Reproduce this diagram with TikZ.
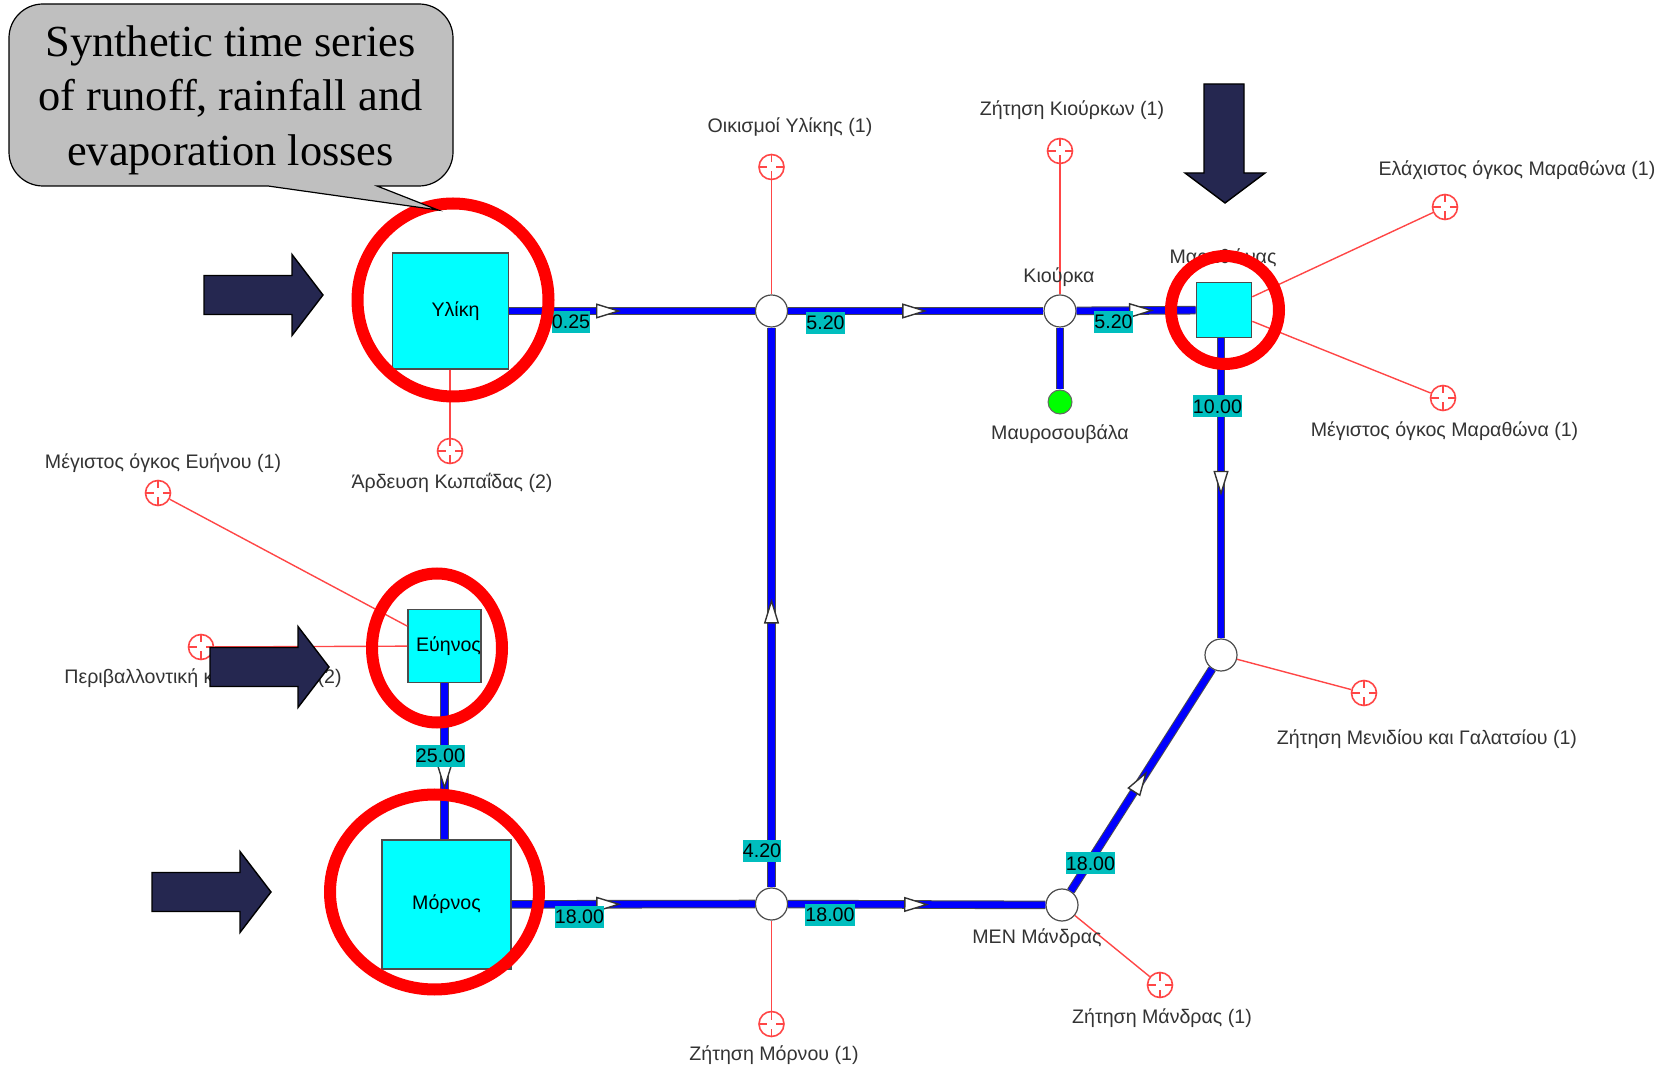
\documentclass[tikz,border=0pt]{standalone}
\usepackage{fontspec}
\setmainfont{Liberation Sans}
\newfontfamily\calloutfont{Liberation Serif}
\usepackage{tikz}
\usetikzlibrary{arrows.meta}
\usetikzlibrary{decorations.markings}

\definecolor{pipeblue}{RGB}{0,0,255}
\definecolor{tankcyan}{RGB}{0,255,255}
\definecolor{tagteal}{RGB}{0,190,190}
\definecolor{inflownavy}{RGB}{37,39,80}
\definecolor{demandred}{RGB}{255,70,70}
\definecolor{ringred}{RGB}{255,0,0}
\definecolor{calloutgray}{RGB}{191,191,191}

\begin{document}
\begin{tikzpicture}[x=0.5pt,y=-0.5pt,
    every node/.style={font=\fontsize{9.8}{11}\selectfont},
    pipe/.style={draw=black!70,line width=0.5pt,double=pipeblue,double distance=3.3pt},
    flow/.style={decoration={
      markings,
      mark=at position #1 with {\arrow[black!80,line width=0.7pt]{Triangle[fill=white,length=12.5pt,width=7.5pt]}}},postaction={decorate}},
    demand/.style={draw=demandred,line width=0.7pt},
    tank/.style={draw=black!70,line width=0.8pt,fill=tankcyan,inner sep=0pt,minimum size=#1},
    junction/.style={circle,draw=black!70,line width=0.6pt,fill=white,inner sep=0pt,minimum size=16pt},
    target/.style={circle,draw=demandred,line width=0.8pt,fill=white,inner sep=0pt,minimum size=12.5pt,
      path picture={
        \draw[demandred,line width=0.6pt]
          (path picture bounding box.north) -- ++(0,-4pt)
          (path picture bounding box.south) -- ++(0,4pt)
          (path picture bounding box.east) -- ++(-4pt,0)
          (path picture bounding box.west) -- ++(4pt,0);}},
    tag/.style={fill=tagteal,inner sep=0pt,minimum height=11pt,minimum width=#1},
    caption/.style={text=black!80,inner sep=0pt},
    ring/.style={draw=ringred,line width=6pt},
    inflow/.style={draw=black,line width=0.7pt,fill=inflownavy}
    ]
    \useasboundingbox (0,0) rectangle (1671,1068);

    % reservoirs
    \node[tank=58pt] (yliki) at (450.5,311) {\hspace{5pt}Υλίκη};
    \node[tank=36.5pt] (evinos) at (444.5,646) {\hspace{4pt}\raisebox{1pt}{Εύηνος}};
    \node[tank=64.5pt] (mornos) at (446.5,904.5) {Μόρνος};
    \node[tank=27.5pt] (marathonas) at (1224,310) {};

    % junctions
    \node[junction] (ylikijn) at (771.5,311) {};
    \node[junction] (kiourka) at (1060,311) {};
    \node[junction] (menidi) at (1221,655) {};
    \node[junction] (mandra) at (1062,905) {};
    \node[junction] (mornosjn) at (771.5,904) {};
    \node[circle,draw=black!60,line width=0.5pt,fill=green,inner sep=0pt,minimum size=12pt] (mavro) at (1060,402) {};

    % demands
    \node[target] (oikismoi) at (771.5,167) {};
    \node[target] (kiourkdem) at (1060,151) {};
    \node[target] (elaxistos) at (1445,207) {};
    \node[target] (megistos) at (1443,398) {};
    \node[target] (kopaida) at (450,451) {};
    \node[target] (evmax) at (158,493) {};
    \node[target] (evenv) at (201,647) {};
    \node[target] (menididem) at (1364,693) {};
    \node[target] (mandradem) at (1160,985) {};
    \node[target] (mornosdem) at (771.5,1024) {};

    \draw[demand] (oikismoi) -- (ylikijn);
    \draw[demand] (kiourkdem) -- (kiourka);
    \draw[demand] (elaxistos) -- (marathonas);
    \draw[demand] (megistos) -- (marathonas);
    \draw[demand] (kopaida) -- (kopaida |- yliki.south);
    \draw[demand] (evmax) -- (evinos);
    \draw[demand] (evenv) -- (evinos);
    \draw[demand] (menididem) -- (menidi);
    \draw[demand] (mandradem) -- (mandra);
    \draw[demand] (mornosdem) -- (mornosjn);

    % pipes
    \draw[pipe,flow=0.455] (yliki) -- (ylikijn);
    \draw[pipe,flow=0.545] (ylikijn) -- (kiourka);
    \draw[pipe,flow=0.65] (kiourka) -- (marathonas);
    \draw[pipe] (kiourka) -- (mavro);
    \draw[pipe,flow=0.525] (marathonas.south -| menidi) -- (menidi);
    \draw[pipe,flow=0.54] (mandra) -- (menidi);
    \draw[pipe,flow=0.548] (mornosjn) -- (mandra);
    \draw[pipe,flow=0.516] (mornosjn) -- (ylikijn);
    \draw[pipe,flow=0.45] (mornos) -- (mornosjn);
    \draw[pipe,flow=0.684] (evinos) -- (evinos |- mornos.north);

    % capacities
    \node[tag=18pt] (tagyliki) at (571,322) {0.25};
    \node[tag=18.5pt] (tagkiourka) at (825.5,323) {5.20};
    \node[tag=18.5pt] (tagmarathonas) at (1113.5,322) {5.20};
    \node[tag=23.5pt] (tagdown) at (1217.5,406.5) {10.00};
    \node[tag=24pt] (tagmenidi) at (1090.5,863.5) {18.00};
    \node[tag=24pt] (tagmandra) at (830,914.5) {18.00};
    \node[tag=19pt] (tagup) at (762,851) {4.20};
    \node[tag=24.5pt] (tagmornos) at (579.5,916.5) {18.00};
    \node[tag=23.5pt] (tagevinos) at (440.5,756) {25.00};

    % names
    \node[caption] (lbloikismoi) at (790,127) {Οικισμοί Υλίκης (1)};
    \node[caption] (lblkiourkdem) at (1072,110) {Ζήτηση Κιούρκων (1)};
    \node[caption] (lblkiourka) at (1059,277) {Κιούρκα};
    \node[caption] (lblmarathonas) at (1223,258) {Μαραθώνας};
    \node[caption] (lblelaxistos) at (1517,170) {Ελάχιστος όγκος Μαραθώνα (1)};
    \node[caption] (lblmegistos) at (1444.5,431) {Μέγιστος όγκος Μαραθώνα (1)};
    \node[caption] (lblmavro) at (1060,434) {Μαυροσουβάλα};
    \node[caption] (lblkopaida) at (452,483) {Άρδευση Κωπαΐδας (2)};
    \node[caption] (lblevmax) at (163,463) {Μέγιστος όγκος Ευήνου (1)};
    \node[caption] (lblevenv) at (203,678) {Περιβαλλοντική κατανάλωση (2)};
    \node[caption] (lblmenidi) at (1427,739) {Ζήτηση Μενιδίου και Γαλατσίου (1)};
    \node[caption] (lblmandra) at (1037,938) {ΜΕΝ Μάνδρας};
    \node[caption] (lblmandradem) at (1162,1018) {Ζήτηση Μάνδρας (1)};
    \node[caption] (lblmornosdem) at (774,1055) {Ζήτηση Μόρνου (1)};

    % rings
    \draw[ring] (453,300) ellipse (95.5 and 96.5);
    \draw[ring] (437,648) ellipse (65 and 74.5);
    \draw[ring] (434.5,892) ellipse (104.5 and 97.5);
    \draw[ring] (1225,310) ellipse (54 and 54);

    % callout
    \draw[draw=black,line width=0.6pt,fill=calloutgray,rounded corners=17pt]
      (9,4) -- (453,4) -- (453,186) [sharp corners] -- (377,186) -- (438,210) -- (268,186)
      [rounded corners=17pt] -- (9,186) -- cycle;
    \node[align=center,font=\calloutfont\fontsize{22.2}{27.2}\selectfont,inner sep=0pt] (note) at (230.5,100)
      {Synthetic time series\\of runoff, rainfall and\\evaporation losses};

    % inflow arrows
    \foreach \tipx/\tipy in {323/295,329/667,271/892}{
      \draw[inflow] (\tipx-119,\tipy-19.5) -- (\tipx-31,\tipy-19.5) -- (\tipx-31,\tipy-40.5)
        -- (\tipx,\tipy) -- (\tipx-31,\tipy+40.5) -- (\tipx-31,\tipy+19.5) -- (\tipx-119,\tipy+19.5) -- cycle;
    }
    \draw[inflow] (1204,84) -- (1244,84) -- (1244,173) -- (1265,173) -- (1225,203)
      -- (1185,173) -- (1204,173) -- cycle;

\end{tikzpicture}
\end{document}
